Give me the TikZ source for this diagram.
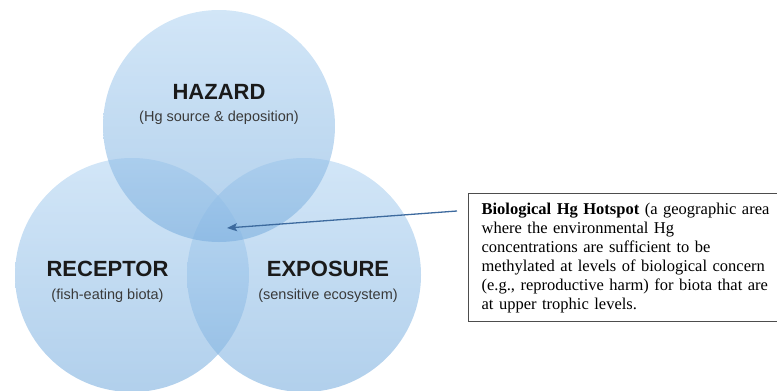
\documentclass[tikz,border=0pt]{standalone}
\usepackage{fontspec}
\setmainfont{Liberation Serif}
\setsansfont{Liberation Sans}
\usetikzlibrary{arrows.meta,positioning,calc}
\definecolor{hgink}{HTML}{1A1A1A}
\definecolor{hgquiet}{HTML}{3A3A3A}
\definecolor{hgtop}{HTML}{B4D5F2}
\definecolor{hgbot}{HTML}{7DB0DF}
\definecolor{hgarrow}{HTML}{3D6A9E}
\definecolor{hgrule}{HTML}{4D4D4D}

\begin{document}
\begin{tikzpicture}[
  x=1pt, y=-1pt, font=\sffamily, >=Latex,
  venn/.style={circle, draw=none, top color=hgtop, bottom color=hgbot, fill opacity=0.6, inner sep=0pt, minimum size=#1},
  head/.style={font=\sffamily\bfseries\fontsize{22}{26}\selectfont, text=hgink},
  sub/.style={font=\sffamily\fontsize{14.5}{17}\selectfont, text=hgquiet},
  note/.style={draw=hgrule, line width=1.3pt, fill=white, text=black, align=left, text width=330pt, minimum height=128pt, inner xsep=13pt, font=\rmfamily\fontsize{16.5}{19}\selectfont},
  pointer/.style={-{Stealth[length=10pt,width=8pt,inset=2pt]}, line width=1.3pt, hgarrow},
]
  \useasboundingbox (0,0) rectangle (777,391);
  \node[venn=234pt] (rec) at (132,275) {};
  \node[venn=234pt] (exp) at (304,275) {};
  \node[venn=232pt] (haz) at (219,126) {};
  \node[head] (hazt) at (219,91.5) {HAZARD};
  \node[sub, below=5pt of hazt] (hazs) {(Hg source \& deposition)};
  \node[head] (rect) at (107.5,269) {RECEPTOR};
  \node[sub, below=5pt of rect] (recs) {(fish-eating biota)};
  \node[head] (expt) at (328,269) {EXPOSURE};
  \node[sub, below=5pt of expt] (exps) {(sensitive ecosystem)};
  \node[note, anchor=north west] (note) at (468,193) {\textbf{Biological Hg Hotspot} (a geographic area\\where the environmental Hg\\concentrations are sufficient to be\\methylated at levels of biological concern\\(e.g., reproductive harm) for biota that are\\at upper trophic levels.};
  \coordinate (core) at (227,228);
  \draw[pointer] ([xshift=-11pt,yshift=-18pt]note.north west) -- (core);
\end{tikzpicture}
\end{document}
